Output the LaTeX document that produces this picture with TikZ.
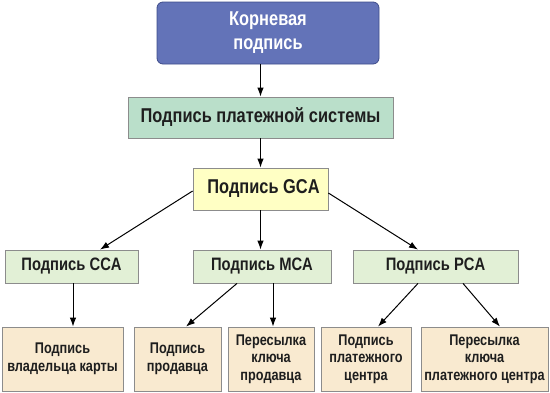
\documentclass[tikz,border=0pt]{standalone}
\usepackage{fontspec}
\setmainfont{Liberation Sans}[FakeStretch=0.82]
\usetikzlibrary{arrows.meta}
\definecolor{rootfill}{HTML}{6373B8}
\definecolor{rootdraw}{HTML}{3E4C8A}
\definecolor{payfill}{HTML}{BADFCA}
\definecolor{gcafill}{HTML}{FFFFC4}
\definecolor{lvlfill}{HTML}{E2F0D6}
\definecolor{leaffill}{HTML}{F9EAD0}
\definecolor{boxdraw}{HTML}{8C8C8C}
\definecolor{txtdark}{HTML}{1E1E1E}
\begin{document}
\begin{tikzpicture}[x=1pt,y=-1pt,
  box/.style={draw=boxdraw, line width=0.8pt, align=center, inner sep=0pt, text=txtdark, font=\bfseries},
  rootbox/.style={box, draw=rootdraw, fill=rootfill, rounded corners=6pt, text=white, font=\bfseries\fontsize{20}{22}\selectfont},
  paybox/.style={box, fill=payfill, font=\bfseries\fontsize{20}{22}\selectfont},
  gcabox/.style={box, fill=gcafill, font=\bfseries\fontsize{20}{22}\selectfont},
  lvlbox/.style={box, fill=lvlfill, font=\bfseries\fontsize{18}{20}\selectfont},
  leafbox/.style={box, fill=leaffill, minimum height=64pt, font=\bfseries\fontsize{15.5}{17.5}\selectfont},
  conn/.style={draw=black, line width=1pt, -{Latex[length=9pt,width=6.5pt]}}
]
\useasboundingbox (0,0) rectangle (550,392);
\node[rootbox, minimum width=222pt, minimum height=62pt] (root) at (268,33) {Корневая\\[2pt]подпись};
\node[paybox, minimum width=265pt, minimum height=41pt] (pay) at (260.5,117.5) {Подпись платежной системы};
\node[gcabox, minimum width=135pt, minimum height=42pt] (gca) at (260.5,189) {\hspace*{6pt}Подпись GCA};
\node[lvlbox, minimum width=133pt, minimum height=33pt] (cca) at (71.5,266.5) {Подпись CCA};
\node[lvlbox, minimum width=138pt, minimum height=33pt] (mca) at (262,266.5) {Подпись MCA};
\node[lvlbox, minimum width=165pt, minimum height=33pt] (pca) at (435.5,266.5) {Подпись PCA};
\node[leafbox, minimum width=121pt] (b1) at (62.5,359) {Подпись\\владельца карты};
\node[leafbox, minimum width=87pt] (b2) at (177.5,359) {Подпись\\продавца};
\node[leafbox, minimum width=86pt] (b3) at (271,359) {Пересылка\\ключа\\продавца};
\node[leafbox, minimum width=90pt] (b4) at (366,359) {Подпись\\платежного\\центра};
\node[leafbox, minimum width=127pt] (b5) at (484.5,359) {Пересылка\\ключа\\платежного центра};
\draw[conn] (root.south -| pay.north) -- (pay.north);
\draw[conn] (pay.south) -- (gca.north);
\draw[conn] (gca.west |- 0,191) -- (cca.north -| 100,0);
\draw[conn] (gca.south) -- (gca.south |- mca.north);
\draw[conn] (gca.east |- 0,193) -- (pca.north -| 418,0);
\draw[conn] (cca.south -| 73,0) -- (b1.north -| 73,0);
\draw[conn] (mca.south -| 237,0) -- (b2.north -| 186,0);
\draw[conn] (mca.south -| 273,0) -- (b3.north -| 273,0);
\draw[conn] (pca.south -| 418,0) -- (b4.north -| 378,0);
\draw[conn] (pca.south -| 463,0) -- (b5.north -| 500,0);
\end{tikzpicture}
\end{document}
